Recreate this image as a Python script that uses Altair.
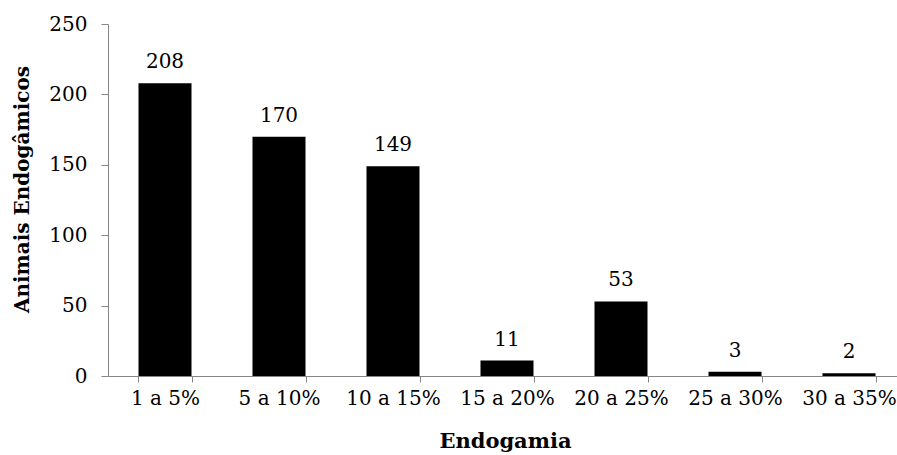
import altair as alt
import pandas as pd

categories = ["1 a 5%", "5 a 10%", "10 a 15%", "15 a 20%", "20 a 25%", "25 a 30%", "30 a 35%"]
values = [208, 170, 149, 11, 53, 3, 2]
y_ticks = [0, 50, 100, 150, 200, 250]

df = pd.DataFrame({"cat": categories, "val": values})

FONT = "DejaVu Serif"
GRAY = "#868686"

x_enc = alt.X(
    "cat:N",
    sort=categories,
    scale=alt.Scale(range=[0, 798], paddingInner=0.535, paddingOuter=0.2675),
    axis=alt.Axis(
        title="Endogamia",
        labelAngle=0,
        tickBand="extent",
        tickSize=6,
        tickColor=GRAY,
        domainColor=GRAY,
        labelFont=FONT,
        labelFontSize=20,
        labelColor="black",
        labelPadding=6,
        titleFont=FONT,
        titleFontSize=21,
        titleFontWeight="bold",
        titleColor="black",
        titleX=397,
        titleY=65,
        titleBaseline="middle",
    ),
)
y_enc = alt.Y(
    "val:Q",
    scale=alt.Scale(domain=[0, 250], nice=False),
    axis=alt.Axis(
        title="Animais Endogâmicos",
        values=y_ticks,
        grid=False,
        tickSize=7,
        tickColor=GRAY,
        domainColor=GRAY,
        labelFont=FONT,
        labelFontSize=20,
        labelColor="black",
        labelPadding=14,
        titleFont=FONT,
        titleFontSize=20,
        titleFontWeight="bold",
        titleColor="black",
        titleX=-86,
        titleY=165,
        titleAngle=270,
        titleBaseline="middle",
    ),
)

bars = alt.Chart(df).mark_bar(color="black").encode(x=x_enc, y=y_enc)
labels = alt.Chart(df).mark_text(
    baseline="alphabetic", dy=-15, font=FONT, fontSize=20, color="black"
).encode(x=alt.X("cat:N", sort=categories), y="val:Q", text="val:Q")

chart = (
    alt.layer(bars, labels)
    .properties(
        width=789,
        height=352,
        autosize=alt.AutoSizeParams(type="none"),
        padding={"left": 108, "top": 24, "right": 0, "bottom": 79},
        background="white",
    )
    .configure_view(stroke=None)
)

chart.save("out.html", embed_options={"renderer": "svg", "actions": False})
